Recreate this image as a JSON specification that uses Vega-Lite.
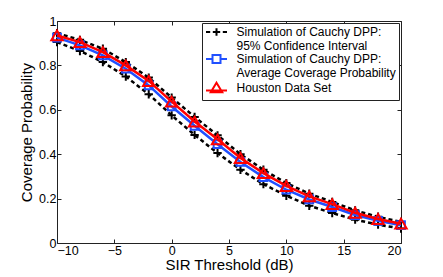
{
  "$schema": "https://vega.github.io/schema/vega-lite/v6.json",
  "width": 344,
  "height": 222,
  "autosize": {"type": "none"},
  "padding": {"left": 57, "top": 21, "right": 42, "bottom": 34},
  "background": "white",
  "config": {
    "font": "Liberation Sans",
    "view": {"stroke": "#222", "strokeWidth": 1},
    "axis": {
      "grid": false, "domain": false, "tickColor": "#222", "tickSize": -4, "tickWidth": 1,
      "labelFont": "Liberation Sans", "labelFontSize": 12.5, "labelColor": "#000",
      "titleFont": "Liberation Sans", "titleFontSize": 15, "titleFontWeight": "normal", "titleColor": "#000"
    }
  },
  "data": {"values": [
    {"x": -10, "y": 0.905, "s": "lo"}, {"x": -8, "y": 0.865, "s": "lo"}, {"x": -6, "y": 0.815, "s": "lo"}, {"x": -4, "y": 0.75, "s": "lo"},
    {"x": -2, "y": 0.67, "s": "lo"}, {"x": 0, "y": 0.575, "s": "lo"}, {"x": 2, "y": 0.487, "s": "lo"}, {"x": 4, "y": 0.405, "s": "lo"},
    {"x": 6, "y": 0.33, "s": "lo"}, {"x": 8, "y": 0.265, "s": "lo"}, {"x": 10, "y": 0.213, "s": "lo"}, {"x": 12, "y": 0.168, "s": "lo"},
    {"x": 14, "y": 0.135, "s": "lo"}, {"x": 16, "y": 0.105, "s": "lo"}, {"x": 18, "y": 0.083, "s": "lo"}, {"x": 20, "y": 0.065, "s": "lo"},
    {"x": -10, "y": 0.945, "s": "hi"}, {"x": -8, "y": 0.915, "s": "hi"}, {"x": -6, "y": 0.875, "s": "hi"}, {"x": -4, "y": 0.815, "s": "hi"},
    {"x": -2, "y": 0.745, "s": "hi"}, {"x": 0, "y": 0.655, "s": "hi"}, {"x": 2, "y": 0.568, "s": "hi"}, {"x": 4, "y": 0.485, "s": "hi"},
    {"x": 6, "y": 0.4, "s": "hi"}, {"x": 8, "y": 0.33, "s": "hi"}, {"x": 10, "y": 0.27, "s": "hi"}, {"x": 12, "y": 0.222, "s": "hi"},
    {"x": 14, "y": 0.185, "s": "hi"}, {"x": 16, "y": 0.147, "s": "hi"}, {"x": 18, "y": 0.118, "s": "hi"}, {"x": 20, "y": 0.095, "s": "hi"},
    {"x": -10, "y": 0.925, "s": "avg"}, {"x": -8, "y": 0.89, "s": "avg"}, {"x": -6, "y": 0.845, "s": "avg"}, {"x": -4, "y": 0.785, "s": "avg"},
    {"x": -2, "y": 0.71, "s": "avg"}, {"x": 0, "y": 0.615, "s": "avg"}, {"x": 2, "y": 0.528, "s": "avg"}, {"x": 4, "y": 0.445, "s": "avg"},
    {"x": 6, "y": 0.365, "s": "avg"}, {"x": 8, "y": 0.297, "s": "avg"}, {"x": 10, "y": 0.24, "s": "avg"}, {"x": 12, "y": 0.196, "s": "avg"},
    {"x": 14, "y": 0.162, "s": "avg"}, {"x": 16, "y": 0.126, "s": "avg"}, {"x": 18, "y": 0.1, "s": "avg"}, {"x": 20, "y": 0.08, "s": "avg"},
    {"x": -10, "y": 0.935, "s": "hou"}, {"x": -8, "y": 0.905, "s": "hou"}, {"x": -6, "y": 0.86, "s": "hou"}, {"x": -4, "y": 0.8, "s": "hou"},
    {"x": -2, "y": 0.73, "s": "hou"}, {"x": 0, "y": 0.637, "s": "hou"}, {"x": 2, "y": 0.547, "s": "hou"}, {"x": 4, "y": 0.467, "s": "hou"},
    {"x": 6, "y": 0.383, "s": "hou"}, {"x": 8, "y": 0.315, "s": "hou"}, {"x": 10, "y": 0.257, "s": "hou"}, {"x": 12, "y": 0.21, "s": "hou"},
    {"x": 14, "y": 0.175, "s": "hou"}, {"x": 16, "y": 0.136, "s": "hou"}, {"x": 18, "y": 0.108, "s": "hou"}, {"x": 20, "y": 0.087, "s": "hou"}
  ]},
  "resolve": {"axis": {"x": "independent", "y": "independent"}},
  "layer": [
    {
      "transform": [{"filter": "datum.s == 'lo' || datum.s == 'hi'"}],
      "mark": {"type": "line", "color": "#000", "strokeWidth": 2.5, "strokeDash": [4, 3]},
      "encoding": {
        "x": {"field": "x", "type": "quantitative", "scale": {"domain": [-10, 20], "nice": false},
              "axis": {"orient": "bottom", "values": [-10, -5, 0, 5, 10, 15, 20], "title": "SIR Threshold (dB)", "labelPadding": 5, "titlePadding": 1}},
        "y": {"field": "y", "type": "quantitative", "scale": {"domain": [0, 1], "nice": false, "zero": false},
              "axis": {"orient": "left", "values": [0, 0.2, 0.4, 0.6, 0.8, 1], "format": "~g", "title": "Coverage Probability", "labelPadding": 5, "titlePadding": 4}},
        "detail": {"field": "s"}
      }
    },
    {
      "transform": [{"filter": "datum.s == 'lo' || datum.s == 'hi'"}],
      "mark": {"type": "point", "shape": "M-1,0H1M0,-1V1", "filled": false, "stroke": "#000", "strokeWidth": 2, "size": 70, "opacity": 1},
      "encoding": {
        "x": {"field": "x", "type": "quantitative", "scale": {"domain": [-10, 20], "nice": false},
              "axis": {"orient": "top", "values": [-10, -5, 0, 5, 10, 15, 20], "labels": false, "title": null}},
        "y": {"field": "y", "type": "quantitative", "scale": {"domain": [0, 1], "nice": false, "zero": false},
              "axis": {"orient": "right", "values": [0, 0.2, 0.4, 0.6, 0.8, 1], "labels": false, "title": null}}
      }
    },
    {
      "transform": [{"filter": "datum.s == 'avg'"}],
      "mark": {"type": "line", "color": "#2050ff", "strokeWidth": 2.5},
      "encoding": {
        "x": {"field": "x", "type": "quantitative", "axis": null},
        "y": {"field": "y", "type": "quantitative", "axis": null}
      }
    },
    {
      "transform": [{"filter": "datum.s == 'avg'"}],
      "mark": {"type": "point", "shape": "square", "filled": false, "stroke": "#2050ff", "strokeWidth": 2, "size": 60, "opacity": 1},
      "encoding": {
        "x": {"field": "x", "type": "quantitative", "axis": null},
        "y": {"field": "y", "type": "quantitative", "axis": null}
      }
    },
    {
      "transform": [{"filter": "datum.s == 'hou'"}],
      "mark": {"type": "line", "color": "#ff0000", "strokeWidth": 2.5},
      "encoding": {
        "x": {"field": "x", "type": "quantitative", "axis": null},
        "y": {"field": "y", "type": "quantitative", "axis": null}
      }
    },
    {
      "transform": [{"filter": "datum.s == 'hou'"}],
      "mark": {"type": "point", "shape": "triangle-up", "filled": false, "stroke": "#ff0000", "strokeWidth": 2, "size": 130, "opacity": 1},
      "encoding": {
        "x": {"field": "x", "type": "quantitative", "axis": null},
        "y": {"field": "y", "type": "quantitative", "axis": null}
      }
    },
    {
      "transform": [{"filter": "datum.s == 'none'"}],
      "mark": {"type": "point", "filled": false, "strokeWidth": 2, "opacity": 1},
      "encoding": {
        "x": {"field": "x", "type": "quantitative", "axis": null},
        "y": {"field": "y", "type": "quantitative", "axis": null},
        "color": {"field": "s", "type": "nominal",
                  "scale": {"domain": ["ci", "avg", "hou"], "range": ["#000000", "#2050ff", "#ff0000"]},
                  "legend": {"title": null, "orient": "top-right", "offset": 2, "padding": 3, "strokeColor": "#222", "fillColor": "white",
                             "symbolSize": 100, "symbolOffset": 5.5, "symbolStrokeWidth": 2, "labelFont": "Liberation Sans", "labelFontSize": 12, "labelColor": "#000",
                             "labelLineHeight": 14, "labelOffset": 14, "rowPadding": -1, "labelLimit": 300,
                             "labelExpr": "datum.value == 'ci' ? ['Simulation of Cauchy DPP:', '95% Confidence Interval'] : datum.value == 'avg' ? ['Simulation of Cauchy DPP:', 'Average Coverage Probability'] : 'Houston Data Set'",
                             "encode": {"labels": {"update": {"dy": {"signal": "datum.value == 'hou' ? 0 : -7"}}}}}},
        "shape": {"field": "s", "type": "nominal",
                  "scale": {"domain": ["ci", "avg", "hou"], "range": ["M-2.1,0H-1.26M-0.74,0H0.74M0,-0.74V0.74M1.26,0H2.1", "M-2.1,0H-0.8M0.8,0H2.1M-0.8,-0.8H0.8V0.8H-0.8Z", "M-2.1,0.5H2.1M0,-1.05L1.15,0.84H-1.15Z"]},
                  "legend": {"title": null}}
      }
    }
  ]
}
